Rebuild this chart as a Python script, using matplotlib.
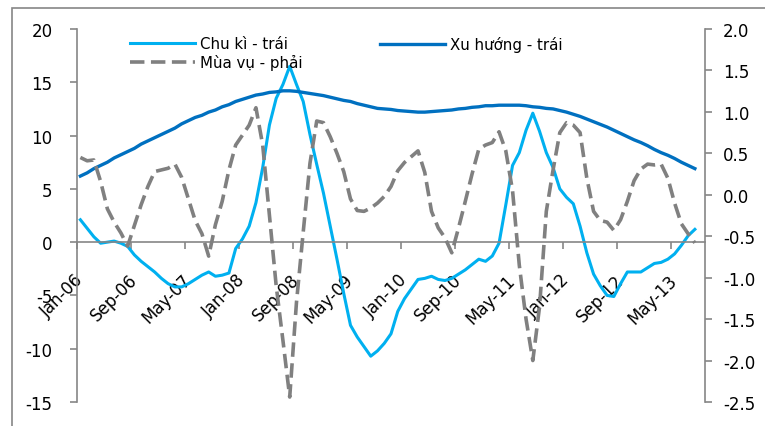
import matplotlib.pyplot as plt
from matplotlib.patches import Rectangle
import numpy as np

plt.rcParams['font.family'] = ['DejaVu Sans']
plt.rcParams['axes.unicode_minus'] = False

# --- dane, miesięcznie od Jan-06 ---
tick_labels = ['Jan-06', 'Sep-06', 'May-07', 'Jan-08', 'Sep-08', 'May-09',
               'Jan-10', 'Sep-10', 'May-11', 'Jan-12', 'Sep-12', 'May-13']

chu_ki = [2.1, 1.3, 0.5, -0.1, 0.0, 0.1, -0.1, -0.4, -1.2, -1.8,
          -2.3, -2.8, -3.4, -3.9, -4.2, -4.2, -3.9, -3.5, -3.1, -2.8,
          -3.2, -3.1, -2.9, -0.6, 0.3, 1.5, 3.7, 7.0, 11.0, 13.5,
          14.8, 16.5, 14.8, 13.2, 10.1, 7.3, 4.6, 1.5, -1.6, -4.8,
          -7.8, -8.9, -9.8, -10.7, -10.2, -9.5, -8.6, -6.5, -5.3, -4.4,
          -3.5, -3.4, -3.2, -3.5, -3.6, -3.4, -3.0, -2.6, -2.1, -1.6,
          -1.8, -1.3, -0.1, 3.5, 7.2, 8.4, 10.5, 12.1, 10.4, 8.4,
          7.0, 5.0, 4.2, 3.6, 1.5, -1.0, -3.0, -4.1, -5.0, -5.1,
          -3.9, -2.8, -2.8, -2.8, -2.4, -2.0, -1.9, -1.6, -1.1, -0.3,
          0.6, 1.2]

xu_huong = [6.2, 6.5, 6.9, 7.2, 7.5, 7.9, 8.2, 8.5, 8.8, 9.2,
            9.5, 9.8, 10.1, 10.4, 10.7, 11.1, 11.4, 11.7, 11.9, 12.2,
            12.4, 12.7, 12.9, 13.2, 13.4, 13.6, 13.8, 13.9, 14.05, 14.1,
            14.2, 14.2, 14.15, 14.05, 13.95, 13.85, 13.75, 13.6, 13.45, 13.3,
            13.2, 13.0, 12.85, 12.7, 12.55, 12.5, 12.45, 12.35, 12.3, 12.25,
            12.2, 12.2, 12.25, 12.3, 12.35, 12.4, 12.5, 12.55, 12.65, 12.7,
            12.8, 12.8, 12.85, 12.85, 12.85, 12.85, 12.8, 12.7, 12.65, 12.55,
            12.5, 12.35, 12.2, 12.0, 11.8, 11.55, 11.3, 11.05, 10.8, 10.5,
            10.2, 9.9, 9.6, 9.35, 9.05, 8.7, 8.4, 8.15, 7.85, 7.5,
            7.2, 6.9]

mua_vu = [0.45, 0.41, 0.42, 0.16, -0.17, -0.33, -0.46, -0.62, -0.37, -0.12,
          0.1, 0.28, 0.3, 0.32, 0.37, 0.21, -0.05, -0.31, -0.47, -0.74,
          -0.36, -0.08, 0.3, 0.6, 0.72, 0.84, 1.05, 0.6, -0.25, -1.1,
          -1.76, -2.44, -1.3, -0.45, 0.38, 0.89, 0.87, 0.7, 0.5, 0.28,
          -0.05, -0.19, -0.2, -0.16, -0.1, -0.02, 0.1, 0.29, 0.39, 0.46,
          0.53, 0.27, -0.2, -0.4, -0.52, -0.7, -0.4, -0.08, 0.25, 0.55,
          0.6, 0.63, 0.76, 0.53, 0.05, -0.85, -1.5, -2.0, -1.35, -0.2,
          0.3, 0.75, 0.87, 0.84, 0.75, 0.2, -0.2, -0.31, -0.33, -0.43,
          -0.3, -0.08, 0.17, 0.31, 0.37, 0.36, 0.37, 0.2, -0.1, -0.35,
          -0.47, -0.58]

n_cat = 93  # oś kategorii (ostatnia pusta)
x = np.arange(len(chu_ki))
GRAY = '#868686'

fig = plt.figure(figsize=(7.65, 4.27), dpi=100)
fig.patches.append(Rectangle((12/765, -0.2), 1.2, 1.2 - 9/427,
                             transform=fig.transFigure, fill=False,
                             edgecolor=GRAY, linewidth=1.2))
ax = fig.add_axes([77/765, 1 - 403/427, 628/765, 373/427])
ax2 = ax.twinx()

l1, = ax.plot(x, chu_ki, color='#00B0F0', lw=2.2, label='Chu kì - trái')
l2, = ax.plot(x, xu_huong, color='#0070C0', lw=2.4, label='Xu hướng - trái')
l3, = ax2.plot(x, mua_vu, color='#808080', lw=2.6, dashes=(4, 1.8),
               label='Mùa vụ - phải')

ax.set_xlim(-0.5, n_cat - 0.5)
ax.set_ylim(-15, 20)
ax.set_yticks(np.arange(-15, 21, 5))
ax2.set_ylim(-2.5, 2.0)
ax2.set_yticks(np.arange(-2.5, 2.01, 0.5))
ax2.set_yticklabels([f'{v:.1f}' for v in np.arange(-2.5, 2.01, 0.5)])

for a in (ax, ax2):
    a.patch.set_visible(False)
    for s in a.spines.values():
        s.set_color(GRAY)
        s.set_linewidth(1.2)
ax.spines['top'].set_visible(False)
ax.spines['right'].set_visible(False)
ax.spines['bottom'].set_position(('data', 0))
ax2.spines['top'].set_visible(False)
ax2.spines['left'].set_visible(False)
ax2.spines['bottom'].set_visible(False)

# os X: kreski na granicach kategorii, etykiety co 8 miesiecy
ax.set_xticks(np.arange(-0.5, n_cat - 1, 8))
ax.set_xticks(np.arange(0, n_cat, 8)[:len(tick_labels)], tick_labels, minor=True)
ax.tick_params(axis='x', which='major', direction='out', length=5,
               color=GRAY, width=1.2, labelbottom=False)
ax.tick_params(axis='x', which='minor', length=0, pad=25, labelsize=12)
for lab in ax.get_xticklabels(minor=True):
    lab.set_rotation(45)
    lab.set_ha('right')
    lab.set_va('center')
    lab.set_rotation_mode('anchor')

ax.tick_params(axis='y', direction='out', length=5, color=GRAY, width=1.2,
               pad=12.5, labelsize=12)
ax2.tick_params(axis='y', direction='out', length=5, color=GRAY, width=1.2,
                pad=8, labelsize=12)

leg1 = ax2.legend(handles=[l1, l3], loc='upper left', frameon=False,
                  bbox_to_anchor=(130/765, 1 - 37/427),
                  bbox_transform=fig.transFigure, fontsize=10.8,
                  borderpad=0, borderaxespad=0, handlelength=4.3,
                  handletextpad=0.35, labelspacing=0.2)
ax2.add_artist(leg1)
ax2.legend(handles=[l2], loc='upper left', frameon=False,
           bbox_to_anchor=(380/765, 1 - 37/427),
           bbox_transform=fig.transFigure, fontsize=10.8,
           borderpad=0, borderaxespad=0, handlelength=4.3,
           handletextpad=0.35)

fig.savefig('out.png', dpi=100)
